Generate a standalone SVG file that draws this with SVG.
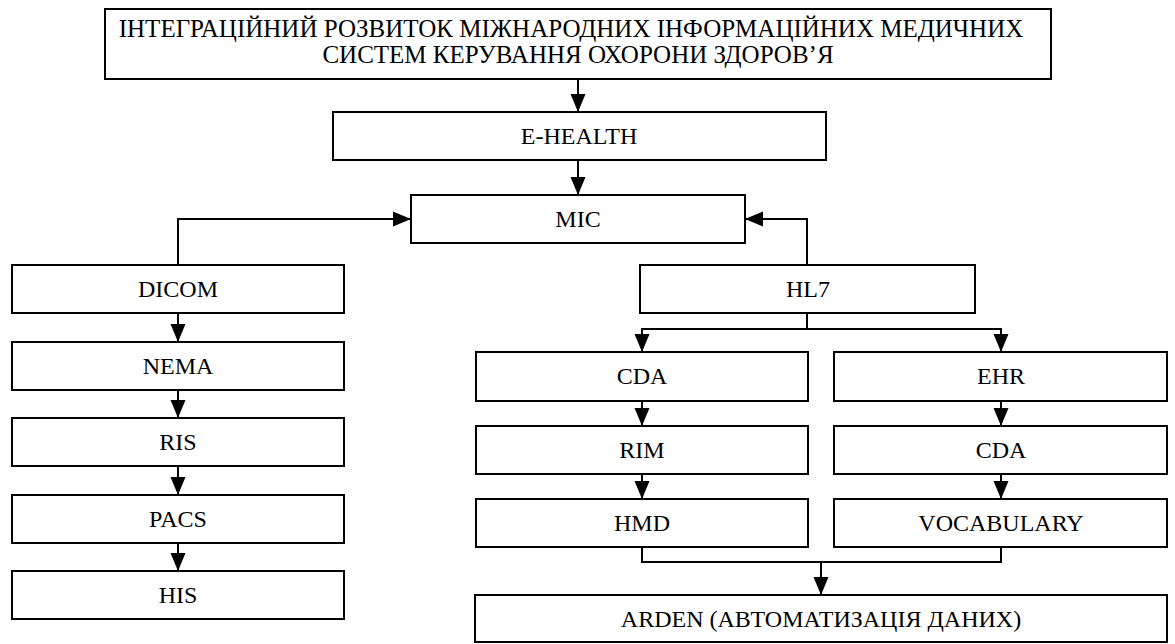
<svg xmlns="http://www.w3.org/2000/svg" width="1175" height="644" viewBox="0 0 1175 644">
<style>
rect.box{fill:#fff;stroke:#000;stroke-width:2}
text{font-family:"Liberation Serif","Times New Roman",serif;font-size:24px;fill:#000;text-anchor:middle}
text.big{font-size:25px}
.conn path{fill:none;stroke:#000;stroke-width:2}
</style>
<defs>
<marker id="ah" markerUnits="userSpaceOnUse" markerWidth="18" markerHeight="16" refX="18" refY="8" orient="auto">
<path d="M0,0.5 L18,8 L0,15.5 z" fill="#000"/>
</marker>
</defs>
<rect width="1175" height="644" fill="#fff"/>
<g class="conn">
<path d="M578,79 V112" marker-end="url(#ah)"/>
<path d="M578,160 V195" marker-end="url(#ah)"/>
<path d="M178,265 V219 H411" marker-end="url(#ah)"/>
<path d="M807,265 V219 H745" marker-end="url(#ah)"/>
<path d="M807,313 V329 H642 V352" marker-end="url(#ah)"/>
<path d="M807,329 H1001 V352" marker-end="url(#ah)"/>
<path d="M178,313 V342" marker-end="url(#ah)"/>
<path d="M178,390 V418" marker-end="url(#ah)"/>
<path d="M178,466 V495" marker-end="url(#ah)"/>
<path d="M178,543 V571" marker-end="url(#ah)"/>
<path d="M642,401 V426" marker-end="url(#ah)"/>
<path d="M642,474 V499" marker-end="url(#ah)"/>
<path d="M1001,401 V426" marker-end="url(#ah)"/>
<path d="M1001,474 V499" marker-end="url(#ah)"/>
<path d="M642,547 V562 H1001 V547"/>
<path d="M821,562 V595" marker-end="url(#ah)"/>
</g>
<g id="n-top"><rect class="box" x="105" y="9" width="946" height="70"/>
<text class="big" x="571" y="37">ІНТЕГРАЦІЙНИЙ РОЗВИТОК МІЖНАРОДНИХ ІНФОРМАЦІЙНИХ МЕДИЧНИХ</text>
<text class="big" x="578" y="63">СИСТЕМ КЕРУВАННЯ ОХОРОНИ ЗДОРОВ’Я</text></g>
<g id="n-ehealth"><rect class="box" x="333" y="112" width="493" height="48"/><text x="579" y="144">E-HEALTH</text></g>
<g id="n-mic"><rect class="box" x="411" y="195" width="334" height="48"/><text x="578" y="227">МІС</text></g>
<g id="n-dicom"><rect class="box" x="12" y="265" width="332" height="48"/><text x="178" y="297">DICOM</text></g>
<g id="n-nema"><rect class="box" x="12" y="342" width="332" height="48"/><text x="178" y="374">NEMA</text></g>
<g id="n-ris"><rect class="box" x="12" y="418" width="332" height="48"/><text x="178" y="450">RIS</text></g>
<g id="n-pacs"><rect class="box" x="12" y="495" width="332" height="48"/><text x="178" y="527">PACS</text></g>
<g id="n-his"><rect class="box" x="12" y="571" width="332" height="48"/><text x="178" y="603">HIS</text></g>
<g id="n-hl7"><rect class="box" x="640" y="265" width="335" height="48"/><text x="808" y="297">HL7</text></g>
<g id="n-cda1"><rect class="box" x="476" y="352" width="332" height="49"/><text x="642" y="384">CDA</text></g>
<g id="n-ehr"><rect class="box" x="834" y="352" width="333" height="49"/><text x="1001" y="384">EHR</text></g>
<g id="n-rim"><rect class="box" x="476" y="426" width="332" height="48"/><text x="642" y="458">RIM</text></g>
<g id="n-cda2"><rect class="box" x="834" y="426" width="333" height="48"/><text x="1001" y="458">CDA</text></g>
<g id="n-hmd"><rect class="box" x="476" y="499" width="332" height="48"/><text x="642" y="531">HMD</text></g>
<g id="n-vocab"><rect class="box" x="834" y="499" width="333" height="48"/><text x="1001" y="531">VOCABULARY</text></g>
<g id="n-arden"><rect class="box" x="475" y="595" width="692" height="47"/><text x="821" y="627">ARDEN (АВТОМАТИЗАЦІЯ ДАНИХ)</text></g>
</svg>
